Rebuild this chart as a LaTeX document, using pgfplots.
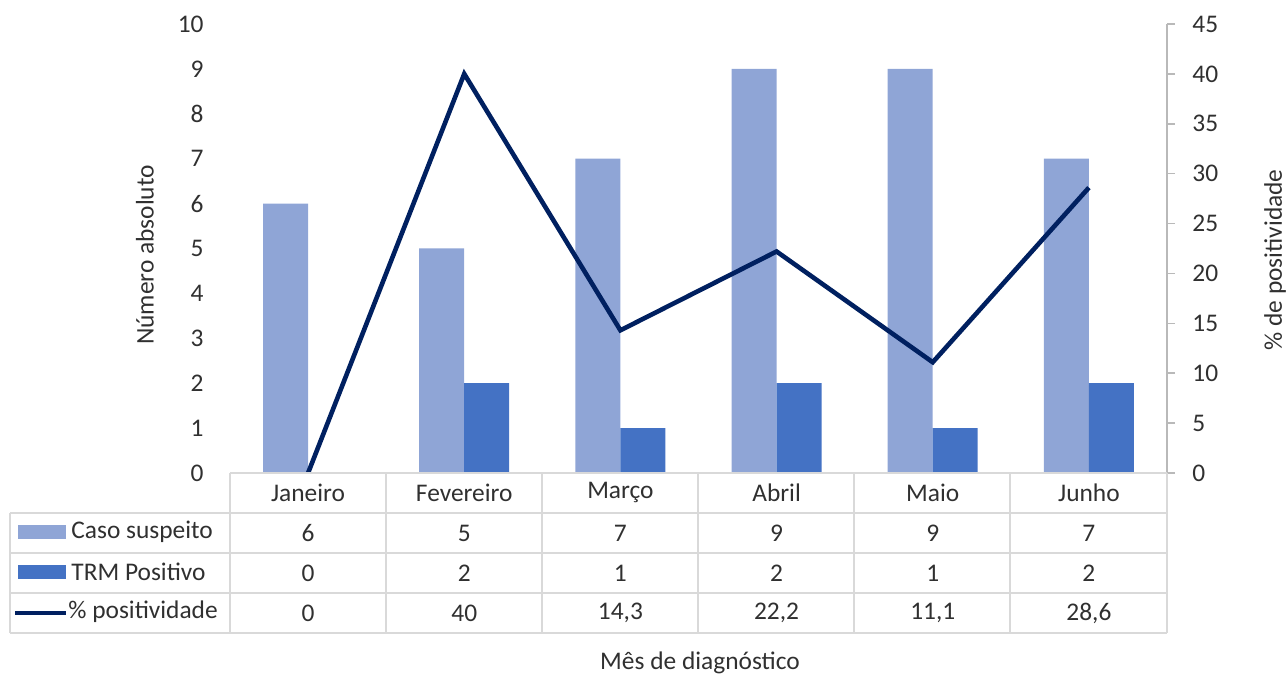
\documentclass[border=0pt]{standalone}
\usepackage{fontspec}
\setmainfont{Carlito}
\usepackage{pgfplots}
\pgfplotsset{compat=1.18}
\usepackage{pgfplotstable}

\definecolor{caso}{HTML}{8FA5D6}
\definecolor{trm}{HTML}{4472C4}
\definecolor{linha}{HTML}{002060}
\definecolor{grade}{HTML}{D9D9D9}
\definecolor{texto}{HTML}{303030}

\pgfplotstableread{
x mes caso trm pct
0 Janeiro 6 0 0
1 Fevereiro 5 2 40
2 Março 7 1 14.3
3 Abril 9 2 22.2
4 Maio 9 1 11.1
5 Junho 7 2 28.6
}\dados

\begin{document}
\fontsize{12.7}{15}\selectfont
\begin{tikzpicture}
\useasboundingbox (0,0) rectangle (643pt,339pt);

% barras (eixo esquerdo) + tabela de dados
\begin{axis}[
  at={(115pt,102.5pt)}, anchor=south west,
  scale only axis, width=468.5pt, height=224.5pt,
  xmin=-0.5, xmax=5.5, ymin=0, ymax=10,
  ytick={0,...,10}, xtick=\empty,
  axis x line=none, axis y line*=left,
  y axis line style={draw=none},
  major tick length=0pt,
  yticklabel style={text=texto, xshift=-8.8pt},
  /pgf/number format/assume math mode=true,
  clip=false,
  every node near coord/.append style={anchor=center, text=texto, inner sep=0pt},
]
\addplot[ybar, bar width=22.5pt, bar shift=-11.25pt, fill=caso, draw=none] table[x=x, y=caso]{\dados};
\addplot[ybar, bar width=22.5pt, bar shift=11.25pt, fill=trm, draw=none] table[x=x, y=trm]{\dados};

\addplot[draw=none, mark=none, nodes near coords, point meta=explicit symbolic]
  table[x=x, y expr=-0.445, meta=mes]{\dados};
\addplot[draw=none, mark=none, nodes near coords, point meta=explicit]
  table[x=x, y expr=-1.336, meta=caso]{\dados};
\addplot[draw=none, mark=none, nodes near coords, point meta=explicit]
  table[x=x, y expr=-2.227, meta=trm]{\dados};
\addplot[draw=none, mark=none, point meta=explicit,
  nodes near coords={\pgfmathprintnumber[use comma, fixed, precision=1, assume math mode=true]{\pgfplotspointmeta}}]
  table[x=x, y expr=-3.118, meta=pct]{\dados};
\end{axis}

% linha (eixo direito)
\begin{axis}[
  at={(115pt,102.5pt)}, anchor=south west,
  scale only axis, width=468.5pt, height=224.5pt,
  xmin=-0.5, xmax=5.5, ymin=0, ymax=45,
  ytick={0,5,...,45},
  axis x line=none, axis y line*=right,
  y axis line style={draw=gray!55, line width=0.8pt},
  ytick style={draw=gray!55, line width=0.8pt},
  tick align=outside, major tick length=4pt,
  yticklabel style={text=texto, xshift=4.3pt},
  /pgf/number format/assume math mode=true,
]
\addplot[linha, line width=2.3pt, mark=none] table[x=x, y=pct]{\dados};
\end{axis}

\begin{scope}[x=0.5pt, y=0.5pt]
  % grade da tabela
  \draw[grade, line width=0.9pt] (230,205) -- (1167,205);
  \foreach \yy in {165,125,85,45} \draw[grade, line width=0.9pt] (10,\yy) -- (1167,\yy);
  \draw[grade, line width=0.9pt] (10,165) -- (10,45);
  \foreach \xx in {230,386,542,698,854,1010,1167} \draw[grade, line width=0.9pt] (\xx,205) -- (\xx,45);
  % legenda
  \fill[caso] (18,139) rectangle (66,153);
  \fill[trm] (18,99) rectangle (66,113);
  \draw[linha, line width=2.3pt] (15,65) -- (66,65);
  \node[anchor=west, text=texto, inner sep=0pt] at (71,146) {Caso suspeito};
  \node[anchor=west, text=texto, inner sep=0pt] at (71,106) {TRM Positivo};
  \node[anchor=west, text=texto, inner sep=0pt] at (68,66) {\% positividade};
  % títulos dos eixos
  \node[rotate=90, text=texto] at (145,423) {Número absoluto};
  \node[rotate=90, text=texto] at (1275,418) {\% de positividade};
  \node[text=texto] at (700,15) {Mês de diagnóstico};
\end{scope}
\end{tikzpicture}
\end{document}
